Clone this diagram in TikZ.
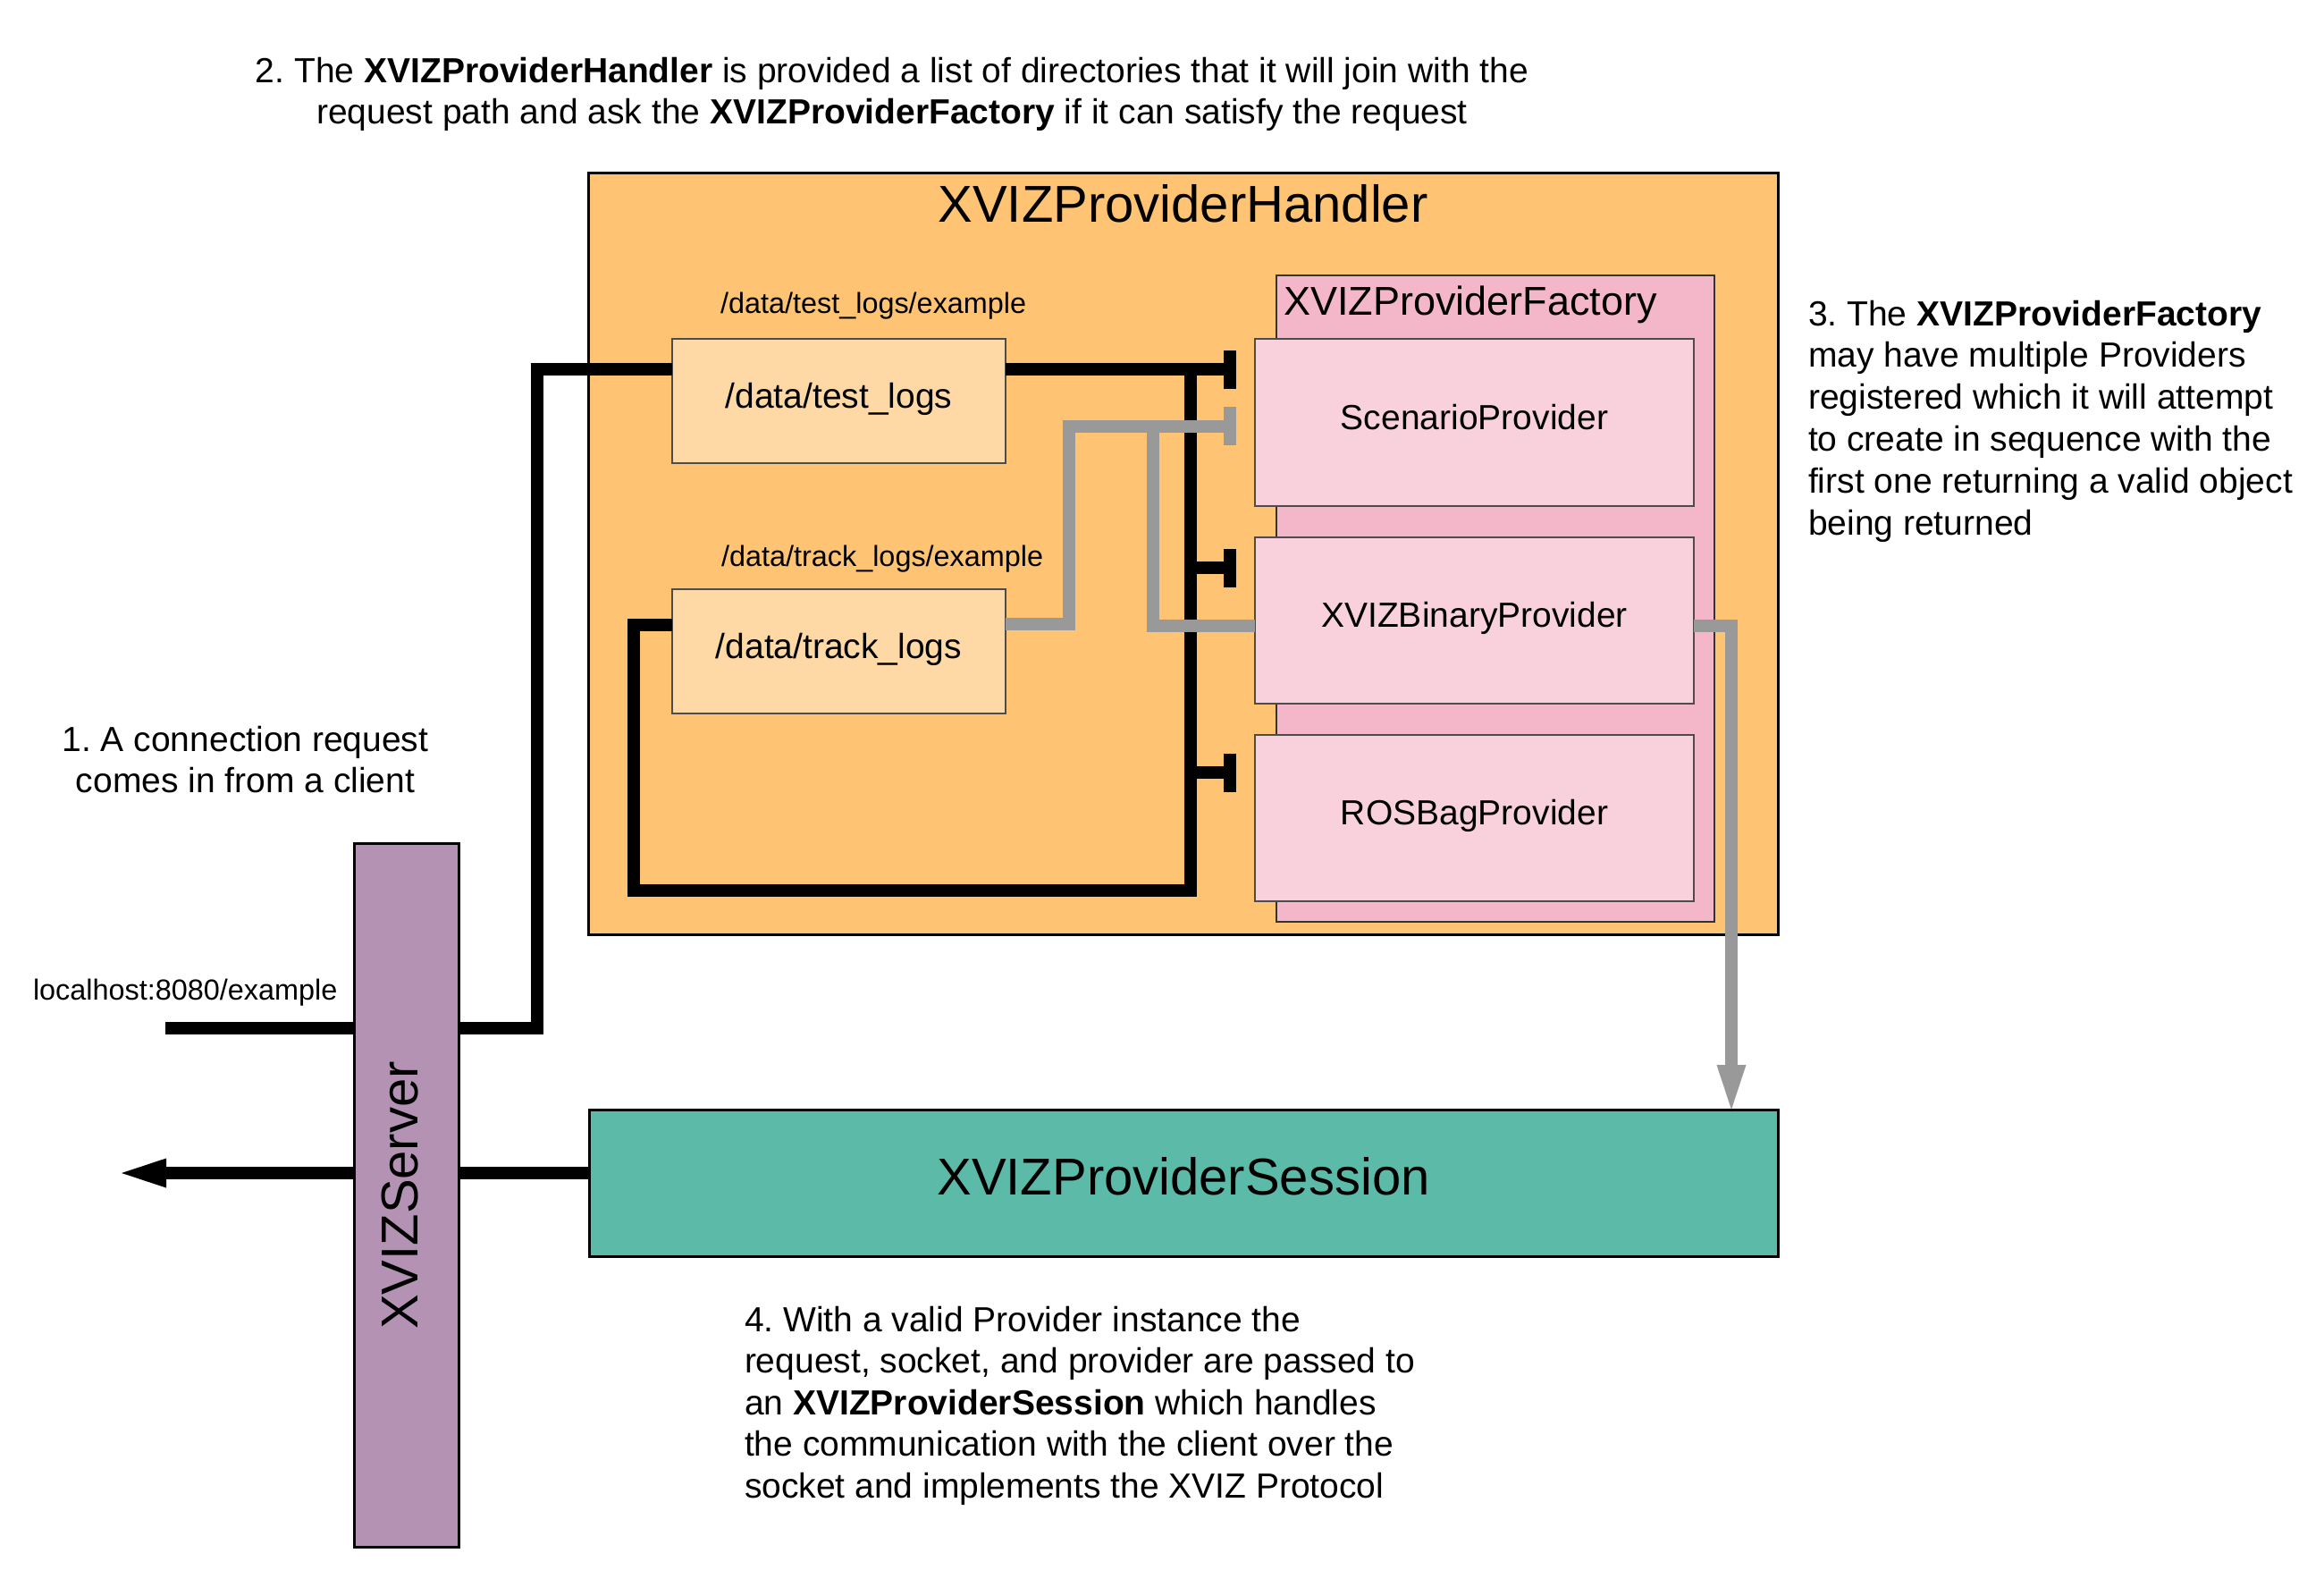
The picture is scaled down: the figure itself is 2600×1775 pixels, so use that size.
\documentclass[tikz,border=0pt]{standalone}
\usepackage{fontspec}
\setmainfont{Liberation Sans}
\usetikzlibrary{arrows.meta}
\frenchspacing
\definecolor{handlerc}{HTML}{FEC474}
\definecolor{pathc}{HTML}{FED9A6}
\definecolor{factc}{HTML}{F4B6C9}
\definecolor{provc}{HTML}{F9D1DC}
\definecolor{servc}{HTML}{B392B4}
\definecolor{sessc}{HTML}{5CBAA8}
\definecolor{grayc}{HTML}{999999}
\newcommand\bodyfnt{\fontsize{39pt}{46.5pt}\selectfont\frenchspacing}
\newcommand\titlefnt{\fontsize{58pt}{66pt}\selectfont}
\newcommand\factfnt{\fontsize{45pt}{52pt}\selectfont}
\newcommand\labfnt{\fontsize{32.4pt}{38pt}\selectfont}
\newcommand\boxfnt{\fontsize{39pt}{46pt}\selectfont}
\newcommand\fstrut{\rule{0pt}{31.2pt}}
\begin{document}
\begin{tikzpicture}[x=1pt,y=-1pt,
  box/.style={draw=black, inner sep=0pt, outer sep=0pt, anchor=north west},
  pbox/.style={box, fill=provc, draw=black!70, line width=1.5pt, minimum width=491pt, font=\boxfnt, text height=30pt, text depth=15pt},
  dbox/.style={box, fill=pathc, draw=black!70, line width=1.5pt, minimum width=373pt, minimum height=139pt, font=\boxfnt, text height=30pt, text depth=15pt},
  txt/.style={inner sep=0pt, outer sep=0pt, font=\bodyfnt},
  lab/.style={inner sep=0pt, outer sep=0pt, font=\labfnt, anchor=base west},
  conn/.style={line width=14pt, line join=miter, line cap=butt, draw=black},
  gconn/.style={conn, draw=grayc},
  barend/.style={-{Rectangle[length=14pt,width=43pt,line width=0pt]}},
  tipend/.style={-{Triangle[length=50pt,width=33pt,line width=0pt]}}]
\useasboundingbox (0,0) rectangle (2600,1775);
\fill[white] (0,0) rectangle (2600,1775);

% texts
\node[txt, align=center, anchor=north] (t2) at (998,60.8) {\fstrut 2. The \textbf{XVIZProviderHandler} is provided a list of directories that it will join with the\\ request path and ask the \textbf{XVIZProviderFactory} if it can satisfy the request};
\node[txt, align=center, anchor=north] (t1) at (274.5,808.8) {\fstrut 1. A connection request\\ comes in from a client};
\node[txt, align=left, anchor=north west, font=\fontsize{39pt}{46.8pt}\selectfont\frenchspacing] (t3) at (2023,332.8) {\fstrut 3. The \textbf{XVIZProviderFactory}\\ may have multiple Providers\\ registered which it will attempt\\ to create in sequence with the\\ first one returning a valid object\\ being returned};
\node[txt, align=left, anchor=north west] (t4) at (833,1457.8) {\fstrut 4. With a valid Provider instance the\\ request, socket, and provider are passed to\\ an \textbf{XVIZProviderSession} which handles\\ the communication with the client over the\\ socket and implements the XVIZ Protocol};

% handler
\node[box, fill=handlerc, line width=3pt, minimum width=1331pt, minimum height=852pt] (hd) at (658,193) {};
\node[inner sep=0pt, font=\titlefnt, anchor=base] (hdt) at (1323.5,248) {XVIZProviderHandler};

% factory
\node[box, fill=factc, draw=black!80, line width=2pt, minimum width=490pt, minimum height=723pt] (fc) at (1428,308) {};
\node[inner sep=0pt, font=\factfnt, anchor=base west] (fct) at (1436,352) {XVIZProviderFactory};
\node[pbox, minimum height=187pt] (sp) at (1404,379) {ScenarioProvider};
\node[pbox, minimum height=186pt] (bp) at (1404,601) {XVIZBinaryProvider};
\node[pbox, minimum height=186pt] (rp) at (1404,822) {ROSBagProvider};

% path boxes
\node[lab] (tll) at (806,350) {/data/test\_logs/example};
\node[dbox] (tl) at (752,379) {/data/test\_logs};
\node[lab] (trl) at (807,633) {/data/track\_logs/example};
\node[dbox] (tr) at (752,659) {/data/track\_logs};

% server and session
\node[box, fill=servc, line width=3pt, minimum width=117pt, minimum height=787pt] (srv) at (396,943) {};
\node[inner sep=0pt, font=\titlefnt, rotate=90, anchor=base] (srvt) at (467,1337) {XVIZServer};
\node[box, fill=sessc, line width=3pt, minimum width=1330pt, minimum height=164pt, font=\titlefnt, text height=42pt, text depth=16pt] (ss) at (659,1241) {XVIZProviderSession};
\node[lab] (lh) at (37,1118.5) {localhost:8080/example};

% coordinates
\coordinate (cin) at (185,1150);
\coordinate (cout) at (136,1312);
\coordinate (ca) at (601,1150);
\coordinate (cb) at (601,413);
\coordinate (vj) at (1331.5,413);
\coordinate (vb) at (1331.5,996);
\coordinate (lb) at (708.5,996);
\coordinate (lt) at (708.5,699);
\coordinate (bx) at (1383,0);
\coordinate (s1) at (1331.5,635);
\coordinate (s2) at (1331.5,864);
\coordinate (g1) at (1195.5,698);
\coordinate (g2) at (1195.5,476.5);
\coordinate (g3) at (1289.5,476.5);
\coordinate (g4) at (1289.5,700);
\coordinate (gx) at (1937,700);

% black connectors
\draw[conn] (cin) -- (cin -| srv.west);
\draw[conn] (srv.east |- ca) -- (ca) -- (cb) -- (cb -| tl.west);
\draw[conn,barend] (tl.east |- vj) -- (vj -| bx);
\draw[conn] (vj) -- (vb) -- (lb) -- (lt) -- (lt -| tr.west);
\draw[conn,barend] (s1) -- (s1 -| bx);
\draw[conn,barend] (s2) -- (s2 -| bx);
\draw[conn] (ss.west |- cout) -- (srv.east |- cout);
\draw[conn,tipend] (srv.west |- cout) -- (cout);

% gray connectors
\draw[gconn,barend] (tr.east |- g1) -- (g1) -- (g2) -- (g2 -| bx);
\draw[gconn] (g3) -- (g4) -- (g4 -| bp.west);
\draw[gconn,tipend] (bp.east |- gx) -- (gx) -- (gx |- ss.north);
\end{tikzpicture}
\end{document}
